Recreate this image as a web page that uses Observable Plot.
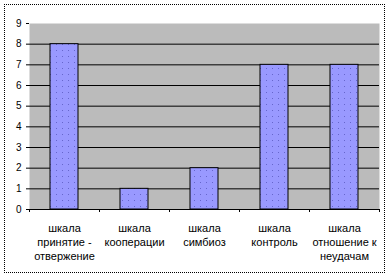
<!DOCTYPE html>
<html>
<head>
<meta charset="utf-8">
<script src="https://cdn.jsdelivr.net/npm/d3@7"></script>
<script src="https://cdn.jsdelivr.net/npm/@observablehq/plot@0.6"></script>
<style>
  html, body { margin: 0; padding: 0; background: #fff; }
  #wrap { position: relative; width: 392px; height: 279px; overflow: hidden; }
  #box { position: absolute; left: 4px; top: 4px; width: 381px; height: 269px; border: 1px dotted #000; box-sizing: border-box; }
  #chart { position: absolute; left: 0; top: 0; }
</style>
</head>
<body>
<div id="wrap"><div id="box"></div><div id="chart"></div></div>
<script>
const categories = ["шкала\nпринятие -\nотвержение", "шкала\nкооперации", "шкала\nсимбиоз", "шкала\nконтроль", "шкала\nотношение к\nнеудачам"];
const values = [8, 1, 2, 7, 7];
const yTicks = [0, 1, 2, 3, 4, 5, 6, 7, 8, 9];
const gridTicks = [1, 2, 3, 4, 5, 6, 7, 8];

const data = categories.map((c, i) => ({category: c, value: values[i]}));

const W = 392, ML = 29, MR = 13;
const step = (W - ML - MR) / 5;

const plot = Plot.plot({
  width: W,
  height: 279,
  marginTop: 23,
  marginBottom: 70,
  marginLeft: ML,
  marginRight: MR,
  style: {fontFamily: "Liberation Sans, Arial, sans-serif", fontSize: "10px", color: "#000", background: "transparent"},
  x: {domain: categories, paddingInner: 0.6, paddingOuter: 0.3, align: 0.5},
  y: {domain: [0, 9]},
  marks: [
    Plot.frame({fill: "url(#bgpat)", stroke: "none"}),
    Plot.gridY(gridTicks, {stroke: "#000", strokeOpacity: 1, strokeWidth: 1}),
    Plot.barY(data, {x: "category", y: "value", fill: "url(#barpat)", stroke: "#000", strokeWidth: 1}),
    Plot.ruleY([0], {stroke: "#000"}),
    Plot.ruleX([0], {frameAnchor: "left", y1: 0, y2: 9, stroke: "#000"}),
    Plot.axisY(yTicks, {tickSize: 3, tickPadding: 5, label: null, fontSize: 10, stroke: "#000"}),
    Plot.axisX(categories, {tickSize: 3, dx: -step / 2, tickFormat: () => "", label: null, stroke: "#000"}),
    Plot.axisX([categories[4]], {tickSize: 3, dx: step / 2, tickFormat: () => "", label: null, stroke: "#000"}),
    Plot.axisX({tickSize: 0, tickPadding: 12, label: null, fontSize: 11, lineHeight: 1.3, tickFormat: d => d})
  ]
});

const svgNS = "http://www.w3.org/2000/svg";
const defs = document.createElementNS(svgNS, "defs");
defs.innerHTML = `
  <pattern id="bgpat" width="2" height="2" patternUnits="userSpaceOnUse">
    <rect width="2" height="2" fill="#c6c6c6"/>
    <rect width="1" height="1" fill="#9a9a9a"/>
  </pattern>
  <pattern id="barpat" width="6" height="6" patternUnits="userSpaceOnUse">
    <rect width="6" height="6" fill="#9999ff"/>
    <rect x="2" y="2" width="1" height="1" fill="#6666cc"/>
  </pattern>`;
plot.insertBefore(defs, plot.firstChild);

document.getElementById("chart").appendChild(plot);
</script>
</body>
</html>
